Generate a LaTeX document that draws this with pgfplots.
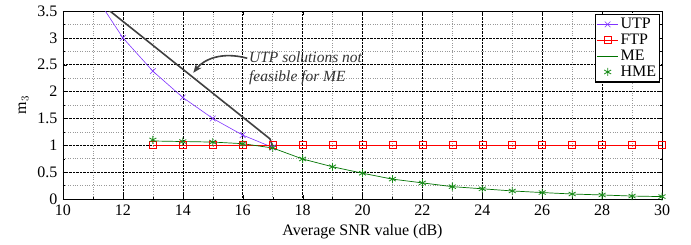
\documentclass[border=0pt]{standalone}
\usepackage{fontspec}
\setmainfont{Liberation Serif}
\usepackage{pgfplots}
\pgfplotsset{compat=1.18}
\usetikzlibrary{arrows.meta}
\definecolor{utp}{rgb}{0.5,0.2,1}
\definecolor{ftp}{rgb}{1,0,0}
\definecolor{me}{rgb}{0,0.45,0}
\definecolor{hme}{rgb}{0.1,0.55,0.1}
\begin{document}
\fontsize{16}{18}\selectfont
\begin{tikzpicture}
\useasboundingbox (-63pt,-45pt) rectangle (628pt,199pt);
\begin{axis}[
  at={(0pt,0pt)}, anchor=south west,
  scale only axis, width=599pt, height=188pt,
  xmin=10, xmax=30, ymin=0, ymax=3.5,
  xtick={10,12,...,30}, ytick={0,0.5,...,3.5},
  yticklabels={0,0.5,1,1.5,2,2.5,3,3.5},
  minor xtick={11,13,...,29}, minor ytick={0.25,0.75,...,3.25},
  grid=both,
  major grid style={black, densely dotted, line width=0.5pt},
  minor grid style={gray!80, dotted, line width=0.5pt},
  tick align=inside, tick pos=both,
  major tick length=4pt, minor tick length=2pt,
  tick style={black},
  axis line style={black, line width=0.6pt},
  /pgf/number format/assume math mode=true,
  tick label style={font=\fontsize{16}{18}\selectfont},
  xticklabel style={yshift=0pt},
  xlabel={Average SNR value (dB)}, ylabel={m$_3$},
  label style={font=\fontsize{16}{18}\selectfont},
  xlabel style={yshift=2pt},
  ylabel style={yshift=-2pt},
  legend style={at={(0.997,0.985)}, anchor=north east, draw=black, line width=1.2pt,
    font=\fontsize{16}{18}\selectfont, inner sep=1.5pt, row sep=-1pt,
    legend cell align=left},
  legend image code/.code={
    \draw[mark repeat=2,mark phase=2,#1] plot coordinates {(0cm,0cm) (0.37cm,0cm) (0.74cm,0cm)};},
  clip=true,
]
\addplot[utp, line width=0.6pt, mark=x, mark size=4pt] coordinates {
 (11,3.85) (12,3.00) (13,2.38) (14,1.89) (15,1.50) (16,1.19) (17,0.96)};
\addlegendentry{UTP}
\addplot[ftp, line width=0.6pt, mark=square, mark size=3.5pt, mark options={solid}] coordinates {
 (13,1) (14,1) (15,1) (16,1) (17,1) (18,1) (19,1) (20,1) (21,1) (22,1) (23,1)
 (24,1) (25,1) (26,1) (27,1) (28,1) (29,1) (30,1)};
\addlegendentry{FTP}
\addplot[me, line width=0.7pt] coordinates {
 (13,1.08) (14,1.07) (15,1.06) (16,1.03) (17,0.95) (18,0.745) (19,0.60) (20,0.48)
 (21,0.37) (22,0.30) (23,0.23) (24,0.19) (25,0.15) (26,0.12) (27,0.093) (28,0.075)
 (29,0.055) (30,0.045)};
\addlegendentry{ME}
\addplot[hme, only marks, mark=asterisk, mark size=4pt, line width=0.8pt] coordinates {
 (13,1.10) (14,1.07) (15,1.06) (16,1.03) (17,0.95) (18,0.745) (19,0.60) (20,0.48)
 (21,0.37) (22,0.30) (23,0.23) (24,0.19) (25,0.15) (26,0.12) (27,0.093) (28,0.075)
 (29,0.055) (30,0.045)};
\addlegendentry{HME}
\addplot[black!75, line width=1.6pt, forget plot] coordinates {
 (11.5,3.53) (16.91,1.12) (17,0.98)};
\node[font=\fontsize{15.5}{19}\selectfont\itshape, black!80, align=left, anchor=center]
  at (axis cs:18.1,2.44) {UTP solutions not\\feasible for ME};
\draw[black!75, line width=1.6pt, -{Stealth[length=9pt,width=7pt]}]
  (axis cs:16.15,2.62) .. controls (axis cs:15.3,2.75) and (axis cs:14.7,2.6) .. (axis cs:14.35,2.35);
\end{axis}
\end{tikzpicture}
\end{document}
